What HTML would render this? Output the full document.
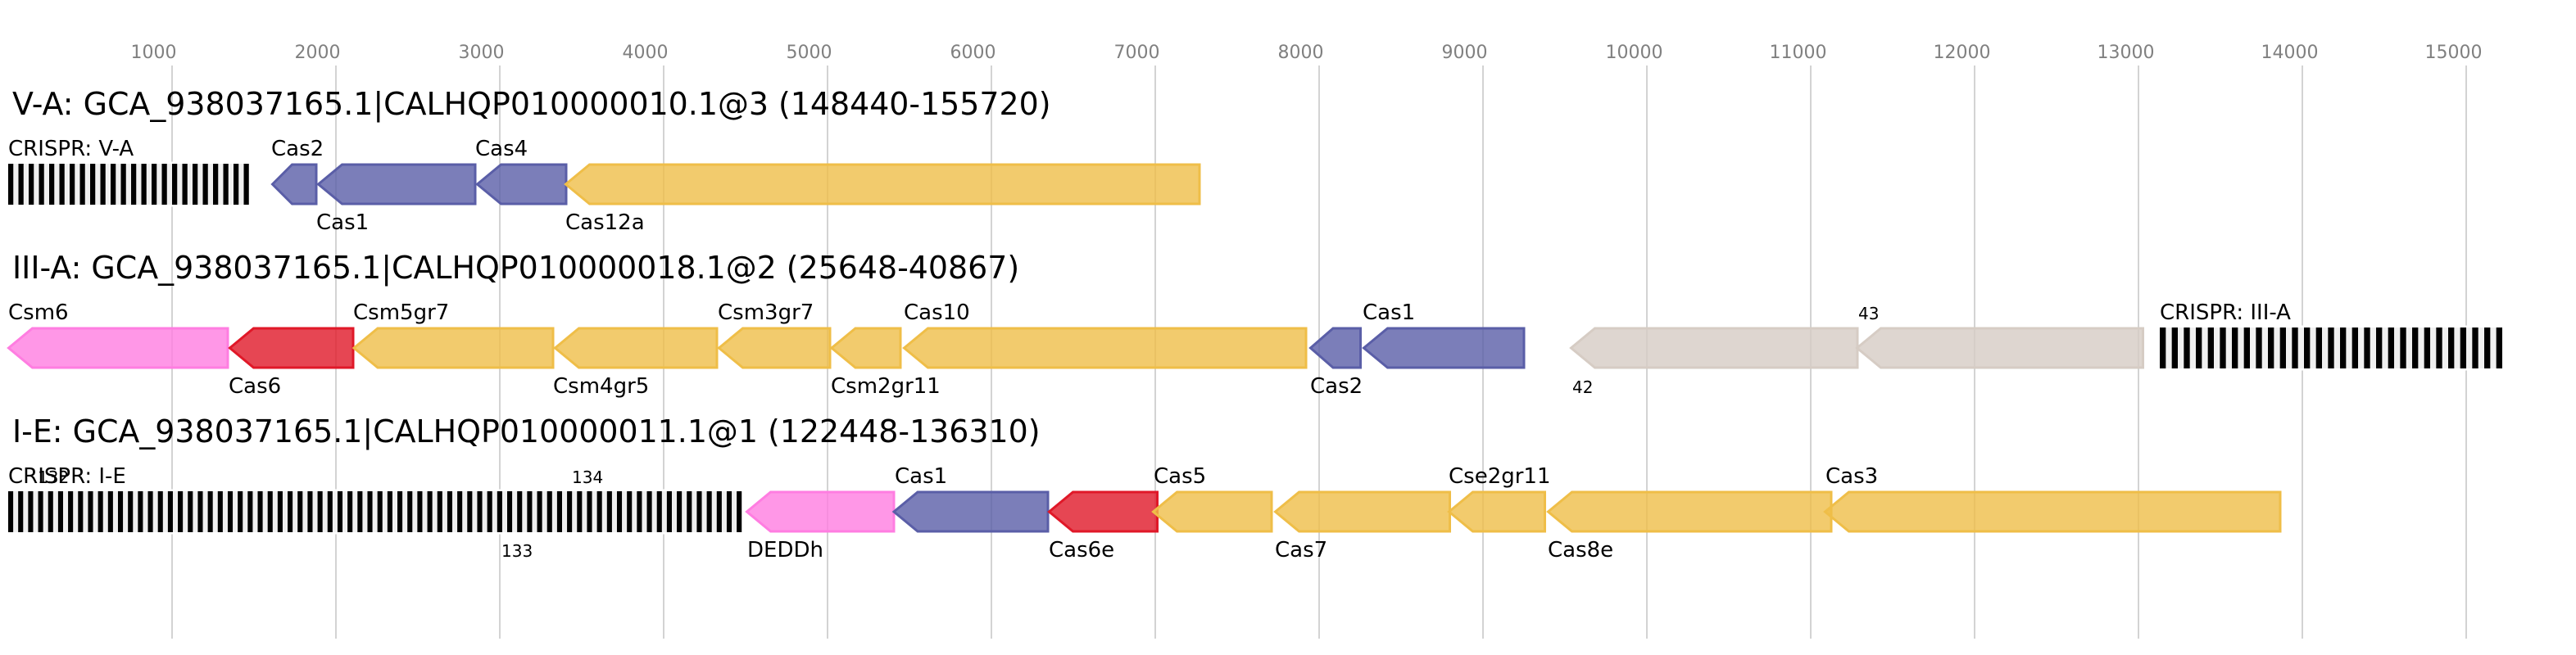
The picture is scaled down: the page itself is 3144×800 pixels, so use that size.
<!DOCTYPE html>
<html>
<head>
<meta charset="utf-8">
<style>
html,body{margin:0;padding:0;background:#fff;}
svg{display:block;}
text{font-family:"DejaVu Sans","Liberation Sans",sans-serif;}
</style>
</head>
<body>
<svg xmlns="http://www.w3.org/2000/svg" width="3144" height="800" viewBox="0 0 3144 800">
<rect x="0" y="0" width="3144" height="800" fill="#fff"/>

<!-- grid lines -->
<g stroke="#c0c0c0" stroke-width="1.4">
<line x1="210" y1="80" x2="210" y2="780"/>
<line x1="410" y1="80" x2="410" y2="780"/>
<line x1="610" y1="80" x2="610" y2="780"/>
<line x1="810" y1="80" x2="810" y2="780"/>
<line x1="1010" y1="80" x2="1010" y2="780"/>
<line x1="1210" y1="80" x2="1210" y2="780"/>
<line x1="1410" y1="80" x2="1410" y2="780"/>
<line x1="1610" y1="80" x2="1610" y2="780"/>
<line x1="1810" y1="80" x2="1810" y2="780"/>
<line x1="2010" y1="80" x2="2010" y2="780"/>
<line x1="2210" y1="80" x2="2210" y2="780"/>
<line x1="2410" y1="80" x2="2410" y2="780"/>
<line x1="2610" y1="80" x2="2610" y2="780"/>
<line x1="2810" y1="80" x2="2810" y2="780"/>
<line x1="3010" y1="80" x2="3010" y2="780"/>
</g>

<!-- tick labels -->
<g fill="#808080" font-size="22">
<text x="159.5" y="71">1000</text>
<text x="359.5" y="71">2000</text>
<text x="559.5" y="71">3000</text>
<text x="759.5" y="71">4000</text>
<text x="959.5" y="71">5000</text>
<text x="1159.5" y="71">6000</text>
<text x="1359.5" y="71">7000</text>
<text x="1559.5" y="71">8000</text>
<text x="1759.5" y="71">9000</text>
<text x="1959.5" y="71">10000</text>
<text x="2159.5" y="71">11000</text>
<text x="2359.5" y="71">12000</text>
<text x="2559.5" y="71">13000</text>
<text x="2759.5" y="71">14000</text>
<text x="2959.5" y="71">15000</text>
</g>

<!-- titles -->
<g fill="#000" font-size="37.9">
<text x="15" y="140">V-A: GCA_938037165.1|CALHQP010000010.1@3 (148440-155720)</text>
<text x="15" y="340">III-A: GCA_938037165.1|CALHQP010000018.1@2 (25648-40867)</text>
<text x="15" y="540">I-E: GCA_938037165.1|CALHQP010000011.1@1 (122448-136310)</text>
</g>

<!-- CRISPR arrays -->
<rect x="7.5" y="197.5" width="299" height="55" fill="#fff"/>
<rect x="10" y="200" width="293.75" height="50" fill="#f0f0f0"/>
<line x1="10" y1="225" x2="303.75" y2="225" stroke="#000" stroke-width="50" stroke-dasharray="6.25 6.25"/>

<rect x="2633.5" y="397.5" width="423" height="55" fill="#fff"/>
<rect x="2636" y="400" width="418" height="50" fill="#f0f0f0"/>
<line x1="2636" y1="425" x2="3054" y2="425" stroke="#000" stroke-width="50" stroke-dasharray="7.333 7.334"/>

<rect x="7.5" y="597.5" width="900.2" height="55" fill="#fff"/>
<rect x="10" y="600" width="895.23" height="50" fill="#f0f0f0"/>
<line x1="10" y1="625" x2="905.23" y2="625" stroke="#000" stroke-width="50" stroke-dasharray="6.09 6.09"/>

<!-- Row 1 genes -->
<g stroke-width="3" stroke-linejoin="miter" fill-opacity="0.8">
<polygon points="332.5,225 356.5,201 386,201 386,249 356.5,249" fill="#5a5ea7" stroke="#5a5ea7"/>
<polygon points="388.5,225 417.5,201 580,201 580,249 417.5,249" fill="#5a5ea7" stroke="#5a5ea7"/>
<polygon points="582.5,225 611.5,201 691,201 691,249 611.5,249" fill="#5a5ea7" stroke="#5a5ea7"/>
<polygon points="690.5,225 719.5,201 1464,201 1464,249 719.5,249" fill="#efbe48" stroke="#efbe48"/>
</g>

<!-- Row 2 genes -->
<g stroke-width="3" stroke-linejoin="miter" fill-opacity="0.8">
<polygon points="10.5,425 39.5,401 278,401 278,449 39.5,449" fill="#ff7de1" stroke="#ff7de1"/>
<polygon points="280.5,425 309.5,401 431,401 431,449 309.5,449" fill="#e01828" stroke="#e01828"/>
<polygon points="432,425 461,401 675,401 675,449 461,449" fill="#efbe48" stroke="#efbe48"/>
<polygon points="677.5,425 706.5,401 875,401 875,449 706.5,449" fill="#efbe48" stroke="#efbe48"/>
<polygon points="877.5,425 906.5,401 1013,401 1013,449 906.5,449" fill="#efbe48" stroke="#efbe48"/>
<polygon points="1015,425 1044,401 1099,401 1099,449 1044,449" fill="#efbe48" stroke="#efbe48"/>
<polygon points="1103.5,425 1132.5,401 1594,401 1594,449 1132.5,449" fill="#efbe48" stroke="#efbe48"/>
<polygon points="1599.5,425 1627,401 1660.5,401 1660.5,449 1627,449" fill="#5a5ea7" stroke="#5a5ea7"/>
<polygon points="1664.5,425 1693.5,401 1860,401 1860,449 1693.5,449" fill="#5a5ea7" stroke="#5a5ea7"/>
<polygon points="1917.5,425 1946.5,401 2267,401 2267,449 1946.5,449" fill="#d6ccc4" stroke="#d6ccc4"/>
<polygon points="2266.5,425 2295.5,401 2615.5,401 2615.5,449 2295.5,449" fill="#d6ccc4" stroke="#d6ccc4"/>
</g>

<!-- Row 3 genes -->
<g stroke-width="3" stroke-linejoin="miter" fill-opacity="0.8">
<polygon points="911.5,625 940.5,601 1091,601 1091,649 940.5,649" fill="#ff7de1" stroke="#ff7de1"/>
<polygon points="1091,625 1120,601 1279,601 1279,649 1120,649" fill="#5a5ea7" stroke="#5a5ea7"/>
<polygon points="1280.5,625 1309.5,601 1412.5,601 1412.5,649 1309.5,649" fill="#e01828" stroke="#e01828"/>
<polygon points="1407.5,625 1436.5,601 1552,601 1552,649 1436.5,649" fill="#efbe48" stroke="#efbe48"/>
<polygon points="1556.5,625 1585.5,601 1769.5,601 1769.5,649 1585.5,649" fill="#efbe48" stroke="#efbe48"/>
<polygon points="1768.5,625 1797.5,601 1885.5,601 1885.5,649 1797.5,649" fill="#efbe48" stroke="#efbe48"/>
<polygon points="1889.5,625 1918.5,601 2235,601 2235,649 1918.5,649" fill="#efbe48" stroke="#efbe48"/>
<polygon points="2227.5,625 2256.5,601 2783,601 2783,649 2256.5,649" fill="#efbe48" stroke="#efbe48"/>
</g>

<!-- gene labels -->
<g fill="#000" font-size="26">
<!-- row 1 -->
<text x="10" y="190">CRISPR: V-A</text>
<text x="331" y="190">Cas2</text>
<text x="386" y="280">Cas1</text>
<text x="580" y="190">Cas4</text>
<text x="690" y="280">Cas12a</text>
<!-- row 2 -->
<text x="10" y="390">Csm6</text>
<text x="279" y="480">Cas6</text>
<text x="431" y="390">Csm5gr7</text>
<text x="675" y="480">Csm4gr5</text>
<text x="876" y="390">Csm3gr7</text>
<text x="1014" y="480">Csm2gr11</text>
<text x="1103" y="390">Cas10</text>
<text x="1599" y="480">Cas2</text>
<text x="1663" y="390">Cas1</text>
<text x="2636" y="390">CRISPR: III-A</text>
<!-- row 3 -->
<text x="10" y="590">CRISPR: I-E</text>
<text x="912" y="680">DEDDh</text>
<text x="1092" y="590">Cas1</text>
<text x="1280" y="680">Cas6e</text>
<text x="1408" y="590">Cas5</text>
<text x="1556" y="680">Cas7</text>
<text x="1768" y="590">Cse2gr11</text>
<text x="1889" y="680">Cas8e</text>
<text x="2228" y="590">Cas3</text>
</g>

<!-- small labels -->
<g fill="#000" font-size="20">
<text x="1919" y="480">42</text>
<text x="2268" y="390">43</text>
<text x="46" y="590">132</text>
<text x="698" y="590">134</text>
<text x="612" y="680">133</text>
</g>
</svg>
</body>
</html>
